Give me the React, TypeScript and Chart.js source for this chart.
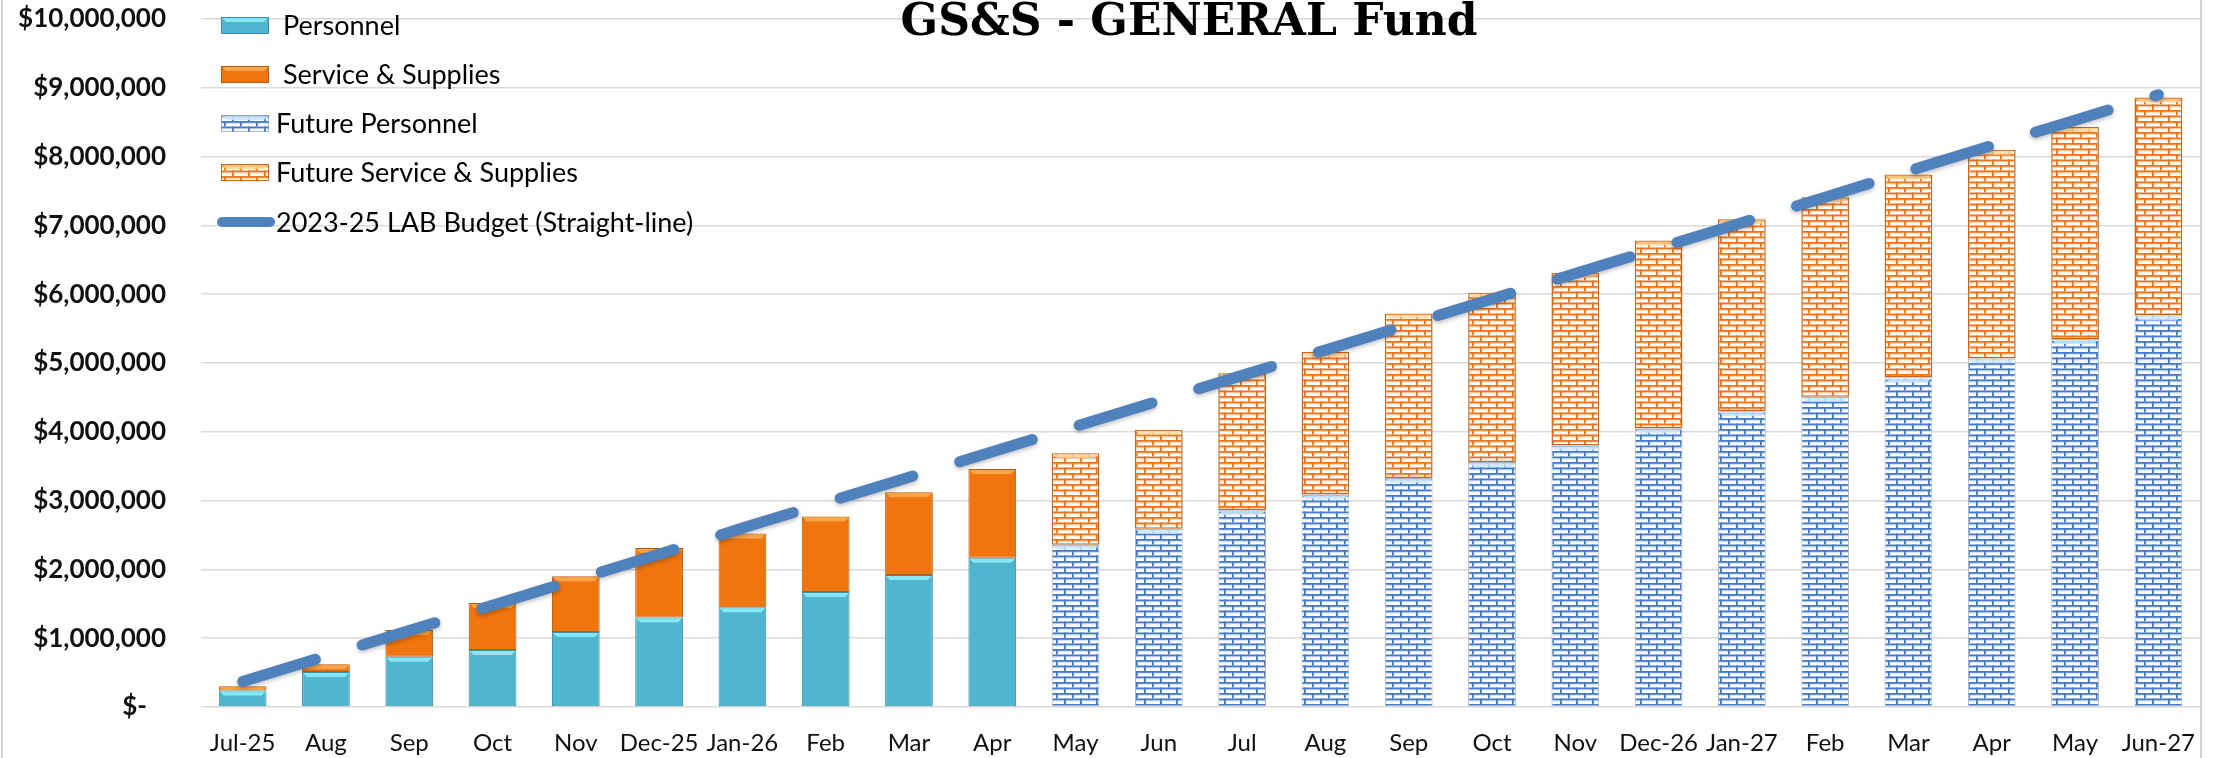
import React, { useEffect, useRef } from 'react';
import { Chart, registerables } from 'chart.js';

Chart.register(...registerables);

const months = ['Jul-25', 'Aug', 'Sep', 'Oct', 'Nov', 'Dec-25', 'Jan-26', 'Feb', 'Mar', 'Apr', 'May', 'Jun', 'Jul', 'Aug', 'Sep', 'Oct', 'Nov', 'Dec-26', 'Jan-27', 'Feb', 'Mar', 'Apr', 'May', 'Jun-27'];

const personnel = [240000, 510000, 730000, 830000, 1090000, 1300000, 1450000, 1670000, 1920000, 2170000, null, null, null, null, null, null, null, null, null, null, null, null, null, null];
const servicesSupplies = [60000, 110000, 390000, 680000, 810000, 1010000, 1070000, 1100000, 1200000, 1290000, null, null, null, null, null, null, null, null, null, null, null, null, null, null];
const futurePersonnel = [null, null, null, null, null, null, null, null, null, null, 2360000, 2590000, 2860000, 3090000, 3330000, 3560000, 3800000, 4050000, 4300000, 4510000, 4790000, 5070000, 5350000, 5690000];
const futureServicesSupplies = [null, null, null, null, null, null, null, null, null, null, 1330000, 1440000, 1990000, 2070000, 2390000, 2460000, 2510000, 2730000, 2790000, 2900000, 2950000, 3030000, 3080000, 3170000];
const labBudget = [370000, 740000, 1110000, 1480000, 1850000, 2220000, 2600000, 2970000, 3340000, 3710000, 4080000, 4450000, 4820000, 5190000, 5560000, 5930000, 6300000, 6670000, 7040000, 7410000, 7790000, 8160000, 8530000, 8900000];

const seriesNames = ['Personnel', 'Service & Supplies', 'Future Personnel', 'Future Service & Supplies', '2023-25 LAB Budget (Straight-line)'];
const chartTitle = 'GS&S - GENERAL Fund';
const yMax = 10000000;
const yStep = 1000000;

const SANS = 'Lato, "DejaVu Sans", sans-serif';

function makeBrick(line: string, bg: string, hi: string): CanvasPattern {
  const c = document.createElement('canvas');
  c.width = 16;
  c.height = 11;
  const g = c.getContext('2d')!;
  g.fillStyle = bg;
  g.fillRect(0, 0, 16, 11);
  g.fillStyle = hi;
  g.fillRect(0, 1.8, 16, 1.2);
  g.fillRect(0, 7.3, 16, 1.2);
  g.fillStyle = line;
  g.fillRect(0, 0, 16, 1.8);
  g.fillRect(0, 5.5, 16, 1.8);
  g.fillRect(0, 0, 1.8, 5.5);
  g.fillRect(8, 5.5, 1.8, 5.5);
  return g.createPattern(c, 'repeat')!;
}

function bevelTop(ctx: CanvasRenderingContext2D, x: number, y: number, w: number, h: number, color: string) {
  const b = Math.min(4, h / 2);
  if (b <= 0) return;
  ctx.save();
  ctx.fillStyle = color;
  ctx.beginPath();
  ctx.moveTo(x + 1, y + 1);
  ctx.lineTo(x + w - 1, y + 1);
  ctx.lineTo(x + w - 1 - b, y + 1 + b);
  ctx.lineTo(x + 1 + b, y + 1 + b);
  ctx.closePath();
  ctx.fill();
  ctx.restore();
}

export default function App() {
  const ref = useRef<HTMLCanvasElement | null>(null);

  useEffect(() => {
    document.body.style.margin = '0';
    const canvas = ref.current!;
    const bluePat = makeBrick('#4479c6', '#ffffff', '#d6e6fa');
    const orangePat = makeBrick('#ef7418', '#ffffff', '#fde0c6');

    const fills = ['#50b6cf', '#f0750f', bluePat, orangePat];
    const borders = ['#3a8ea6', '#b95a0c', 'rgba(140,150,165,0.7)', '#c9671c'];
    const bevels = ['#86e8f6', '#f6a548', 'rgba(205,230,255,0.85)', 'rgba(255,214,150,0.8)'];

    const decor = {
      id: 'decor',
      beforeDraw(chart: any) {
        const c = chart.ctx;
        c.save();
        c.fillStyle = '#ffffff';
        c.fillRect(0, 0, chart.width, chart.height);
        c.restore();
      },
      beforeDatasetDraw(chart: any, args: any) {
        if (args.index === 4) {
          const c = chart.ctx;
          c.save();
          c.shadowColor = 'rgba(0,0,0,0.25)';
          c.shadowBlur = 4;
          c.shadowOffsetY = 2;
        }
      },
      afterDatasetDraw(chart: any, args: any) {
        const i = args.index;
        const c = chart.ctx;
        if (i === 4) {
          c.restore();
          return;
        }
        const meta = chart.getDatasetMeta(i);
        meta.data.forEach((el: any, j: number) => {
          const v = chart.data.datasets[i].data[j];
          if (v == null) return;
          const p = el.getProps(['x', 'y', 'base', 'width'], true);
          const top = Math.min(p.y, p.base);
          const h = Math.abs(p.base - p.y);
          bevelTop(c, p.x - p.width / 2, top, p.width, h, bevels[i]);
        });
      },
      afterDraw(chart: any) {
        const c = chart.ctx;
        c.save();
        // chart frame edges
        c.strokeStyle = '#d0d0d0';
        c.lineWidth = 2;
        c.beginPath();
        c.moveTo(2, 0);
        c.lineTo(2, chart.height);
        c.moveTo(2201, 0);
        c.lineTo(2201, chart.height);
        c.stroke();

        // title
        c.fillStyle = '#000';
        c.font = 'bold 44px "DejaVu Serif", serif';
        c.textAlign = 'center';
        c.textBaseline = 'alphabetic';
        c.fillText(chartTitle, 1189, 35);

        // legend
        const rows = [25.5, 74.5, 123.5, 172.5, 222];
        c.font = '27px ' + SANS;
        c.textAlign = 'left';
        c.textBaseline = 'middle';
        for (let k = 0; k < 4; k++) {
          const y = rows[k];
          const sx = 221, sw = 48, sh = 17;
          c.fillStyle = fills[k] as any;
          c.fillRect(sx, y - sh / 2, sw, sh);
          c.strokeStyle = borders[k];
          c.lineWidth = 1;
          c.strokeRect(sx + 0.5, y - sh / 2 + 0.5, sw - 1, sh - 1);
          bevelTop(c, sx, y - sh / 2, sw, sh, bevels[k]);
          c.fillStyle = '#000';
          c.fillText(seriesNames[k], k < 2 ? 283 : 276, y + 1);
        }
        c.strokeStyle = '#4f81bd';
        c.lineWidth = 10;
        c.lineCap = 'round';
        c.beginPath();
        c.moveTo(222, rows[4]);
        c.lineTo(270, rows[4]);
        c.stroke();
        c.fillStyle = '#000';
        c.fillText(seriesNames[4], 276, rows[4] + 1);
        c.restore();
      },
    };

    const barBase = {
      type: 'bar' as const,
      stack: 'spend',
      order: 1,
      barPercentage: 0.573,
      categoryPercentage: 1,
      borderSkipped: false,
      borderWidth: 1,
    };

    const chart = new Chart(canvas, {
      type: 'bar',
      data: {
        labels: months,
        datasets: [
          { ...barBase, label: seriesNames[0], data: personnel, backgroundColor: fills[0], borderColor: borders[0] },
          { ...barBase, label: seriesNames[1], data: servicesSupplies, backgroundColor: fills[1], borderColor: borders[1] },
          { ...barBase, label: seriesNames[2], data: futurePersonnel, backgroundColor: fills[2], borderColor: borders[2] },
          { ...barBase, label: seriesNames[3], data: futureServicesSupplies, backgroundColor: fills[3], borderColor: borders[3], borderWidth: 1.5 },
          {
            type: 'line',
            label: seriesNames[4],
            data: labBudget,
            stack: 'budget',
            order: 0,
            borderColor: '#4f81bd',
            backgroundColor: '#4f81bd',
            borderWidth: 11,
            borderDash: [76, 49],
            borderCapStyle: 'round',
            pointRadius: 0,
            tension: 0,
            fill: false,
          } as any,
        ],
      },
      options: {
        responsive: false,
        maintainAspectRatio: false,
        devicePixelRatio: 1,
        animation: false,
        layout: { padding: { left: 0, right: 21, top: 19, bottom: 0 } },
        plugins: {
          legend: { display: false },
          title: { display: false },
          tooltip: { enabled: false },
        },
        scales: {
          x: {
            stacked: true,
            offset: true,
            grid: { display: false },
            border: { display: false },
            ticks: {
              font: { family: SANS, size: 24 },
              color: '#111',
              padding: 14,
              maxRotation: 0,
              autoSkip: false,
            },
            afterFit: (s: any) => { s.height = 51; },
          },
          y: {
            stacked: true,
            min: 0,
            max: yMax,
            grid: { color: '#d9d9d9', lineWidth: 1.5, drawTicks: true, tickLength: 35, tickColor: 'rgba(0,0,0,0)' },
            border: { display: false },
            ticks: {
              stepSize: yStep,
              font: { family: SANS, size: 26, weight: 'bold' },
              color: '#111',
              padding: 0,
              callback: (v: any) => (Number(v) === 0 ? '$-   ' : '$' + Number(v).toLocaleString('en-US')),
            },
            afterFit: (s: any) => { s.width = 201; },
          },
        },
      } as any,
      plugins: [decor],
    });

    return () => chart.destroy();
  }, []);

  return (
    <div style={{ width: 2221, height: 758 }}>
      <canvas ref={ref} width={2221} height={758} style={{ display: 'block' }} />
    </div>
  );
}
